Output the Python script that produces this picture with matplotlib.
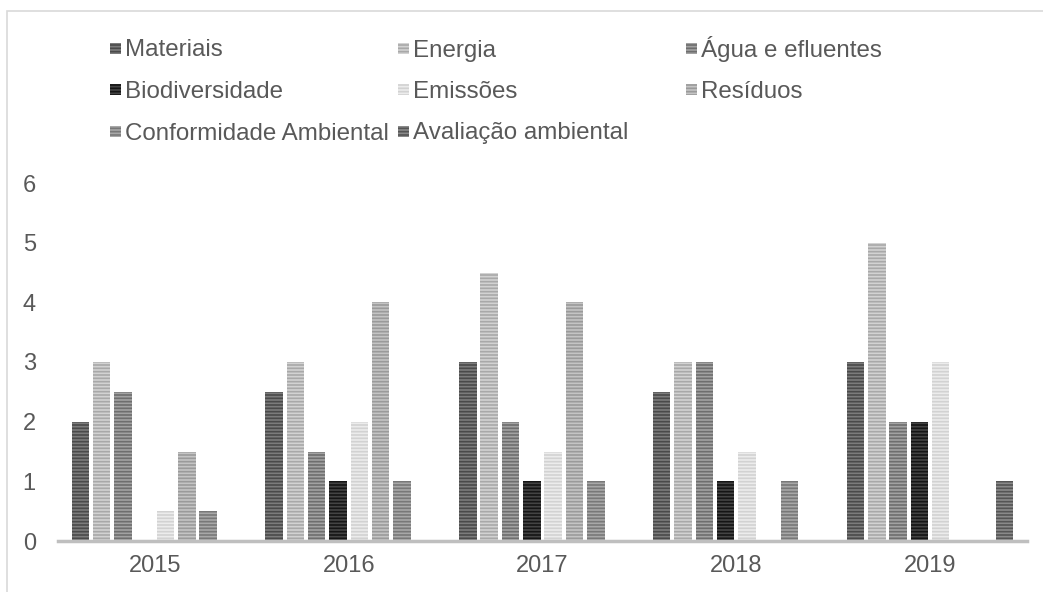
import numpy as np
import matplotlib
matplotlib.use("Agg")
import matplotlib.pyplot as plt
from matplotlib.patches import Rectangle

# ---------------- DATA ----------------
years = ["2015", "2016", "2017", "2018", "2019"]
series = ["Materiais", "Energia", "Água e efluentes", "Biodiversidade",
          "Emissões", "Resíduos", "Conformidade Ambiental", "Avaliação ambiental"]
materiais     = [2.0, 2.5, 3.0, 2.5, 3.0]
energia       = [3.0, 3.0, 4.5, 3.0, 5.0]
agua          = [2.5, 1.5, 2.0, 3.0, 2.0]
biodiv        = [0.0, 1.0, 1.0, 1.0, 2.0]
emissoes      = [0.5, 2.0, 1.5, 1.5, 3.0]
residuos      = [1.5, 4.0, 4.0, 0.0, 0.0]
conformidade  = [0.5, 1.0, 1.0, 1.0, 0.0]
avaliacao     = [0.0, 0.0, 0.0, 0.0, 1.0]
values = [materiais, energia, agua, biodiv, emissoes, residuos, conformidade, avaliacao]

# face colour / stripe colour for each series
face_colors  = ["#7c7c7c", "#d2d2d2", "#a2a2a2", "#444444", "#ececec", "#c4c4c4", "#a8a8a8", "#8a8a8a"]
hatch_colors = ["#4a4a4a", "#a8a8a8", "#6e6e6e", "#151515", "#d2d2d2", "#9a9a9a", "#787878", "#555555"]

text_color = "#595959"
plt.rcParams["font.family"] = ["Liberation Sans", "DejaVu Sans"]
plt.rcParams["hatch.linewidth"] = 1.2

W, H = 1043, 592

# ---------------- PLOT ----------------
fig = plt.figure(figsize=(W / 100, H / 100), dpi=100)
ax = fig.add_axes([58 / W, 51 / H, 969 / W, 358 / H])

x = np.arange(len(years))
n = len(series)
pitch = 0.88 / n
width = pitch * 0.82
for i, (name, vals) in enumerate(zip(series, values)):
    offs = (i - (n - 1) / 2) * pitch
    ax.bar(x + offs, vals, width, label=name, color=face_colors[i],
           edgecolor=hatch_colors[i], linewidth=0, hatch="-----")

ax.set_xlim(-0.5, len(years) - 0.5)
ax.set_ylim(0, 6)
ax.set_yticks(range(0, 7))
ax.set_xticks(x)
ax.set_xticklabels(years)
ax.tick_params(axis="both", length=0, labelsize=17, colors=text_color)
ax.tick_params(axis="y", pad=16)
ax.tick_params(axis="x", pad=10)
for s in ["top", "right", "left"]:
    ax.spines[s].set_visible(False)
ax.spines["bottom"].set_color("#bfbfbf")
ax.spines["bottom"].set_linewidth(2.5)

# ---------------- LEGEND (3 columns, filled row by row) ----------------
col_x = [110, 398, 686]      # left edge of the marker, px
row_y = [48, 89.5, 131]      # vertical centre of the row, px
msize = 11
for i, name in enumerate(series):
    cx = col_x[i % 3]
    cy = row_y[i // 3]
    fig.patches.append(Rectangle((cx / W, 1 - (cy + msize / 2) / H), msize / W, msize / H,
                                 transform=fig.transFigure, facecolor=face_colors[i],
                                 edgecolor=hatch_colors[i], linewidth=0, hatch="-----"))
    fig.text((cx + msize + 4) / W, 1 - (cy + 8.5) / H, name, fontsize=17.4,
             color=text_color, ha="left", va="baseline")

# chart border
fig.patches.append(Rectangle((7 / W, -0.1), 1.2, 1 - 11 / H + 0.1,
                             transform=fig.transFigure, fill=False,
                             edgecolor="#d9d9d9", linewidth=1.2))

fig.savefig("out.png", dpi=100)
